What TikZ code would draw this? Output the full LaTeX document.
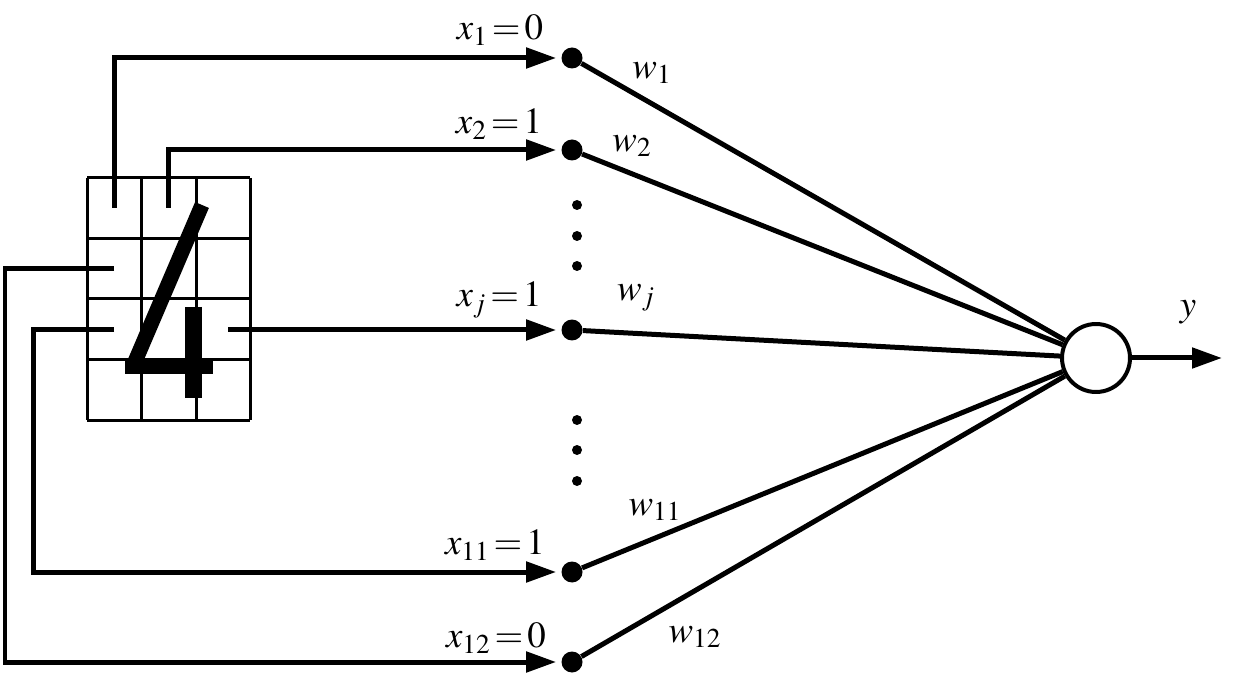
\documentclass[tikz,border=0pt]{standalone}
\usepackage{mathptmx}
\usetikzlibrary{arrows.meta,positioning,calc}
\tikzset{
  wire/.style={line width=0.1cm},
  inwire/.style={wire, -{Triangle[length=0.6cm,width=0.4cm]}, shorten >=0.1cm},
  inpoint/.style={circle, fill=black, inner sep=0pt, minimum size=0.42cm},
  neuron/.style={circle, draw, line width=0.08cm, inner sep=0pt, minimum size=1.36cm},
  lbl/.style={font=\fontsize{21}{25}\selectfont, inner sep=0pt},
  cellline/.style={line width=0.06cm},
  digitbar/.style={line width=0.3cm}
}

\begin{document}
\begin{tikzpicture}[x=0.02cm, y=-0.02cm]
  \useasboundingbox (0,0) rectangle (1236,678);
  % pixel grid with the digit
  \foreach \x in {87,141.5,196,250} \draw[cellline] (\x,178) -- (\x,420);
  \foreach \y in {178,238.5,299,359.5,420} \draw[cellline] (87,\y) -- (250,\y);
  \draw[digitbar] (202,205) -- (134,364);
  \draw[digitbar] (125,367) -- (213,367);
  \draw[line width=0.34cm] (193,307) -- (193,398);

  % input points
  \node[inpoint] (d1) at (572,58) {};
  \node[inpoint] (d2) at (572,150) {};
  \node[inpoint] (dj) at (572,330) {};
  \node[inpoint] (d11) at (572,572) {};
  \node[inpoint] (d12) at (572,662) {};
  \foreach \y in {205,236,266,420,450,481} \fill (577,\y) circle (0.1cm);

  % output neuron
  \node[neuron] (out) at (1096,358) {};
  \coordinate (yend) at (1222,358);

  % stubs from the cells
  \coordinate (s1) at (114,208);
  \coordinate (s2) at (168,208);
  \coordinate (sj) at (228,330);
  \coordinate (s11) at (114,330);
  \coordinate (k11) at (33,330);
  \coordinate (s12) at (114,269);
  \coordinate (k12) at (5,269);

  \draw[inwire] (s1) |- (d1);
  \draw[inwire] (s2) |- (d2);
  \draw[inwire] (sj) -- (dj);
  \draw[inwire] (s11) -- (k11) |- (d11);
  \draw[inwire] (s12) -- (k12) |- (d12);

  % weights
  \foreach \d in {d1,d2,dj,d11,d12} \draw[wire] (\d) -- (out);
  \draw[wire, -{Triangle[length=0.6cm,width=0.4cm]}] (out) -- (yend);

  % labels
  \node[lbl] (lx1) at (500,30) {$x_1\,{=}\,0$};
  \node[lbl] (lx2) at (499,124) {$x_2\,{=}\,1$};
  \node[lbl] (lxj) at (499,300) {$x_j\,{=}\,1$};
  \node[lbl] (lx11) at (495,545) {$x_{11}\,{=}\,1$};
  \node[lbl] (lx12) at (496,638) {$x_{12}\,{=}\,0$};
  \node[lbl] (lw1) at (652,73) {$w_1$};
  \node[lbl] (lw2) at (632,146) {$w_2$};
  \node[lbl] (lwj) at (636,298) {$w_j$};
  \node[lbl] (lw11) at (655,510) {$w_{11}$};
  \node[lbl] (lw12) at (695,637) {$w_{12}$};
  \node[lbl] (ly) at (1188,312) {$y$};
\end{tikzpicture}
\end{document}
